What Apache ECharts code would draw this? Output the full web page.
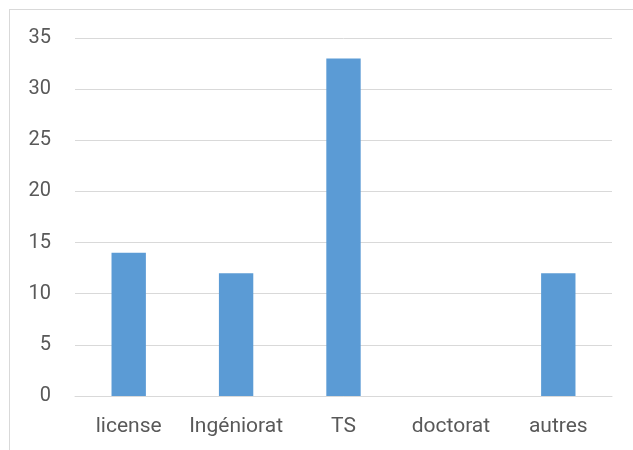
<!DOCTYPE html>
<html>
<head>
<meta charset="utf-8">
<script src="https://cdn.jsdelivr.net/npm/echarts@6/dist/echarts.min.js"></script>
<style>
  html, body { margin: 0; padding: 0; background: #fff; }
  #frame { position: absolute; left: 9px; top: 9px; width: 640px; height: 460px; border: 1px solid #d9d9d9; box-sizing: border-box; }
  #chart { position: absolute; left: 0; top: 0; width: 633px; height: 450px; }
</style>
</head>
<body>
<div id="frame"></div>
<div id="chart"></div>
<script>
const categories = ['license', 'Ingéniorat', 'TS', 'doctorat', 'autres'];
const values = [14, 12, 33, 0, 12];
const yMin = 0, yMax = 35, yStep = 5;

const textColor = '#595959';
const gridColor = '#d9d9d9';
const barColor = '#5b9bd5';
const font = 'Roboto';

const chart = echarts.init(document.getElementById('chart'), null, { renderer: 'canvas' });
chart.setOption({
  animation: false,
  grid: { left: 75, right: 21, top: 38, bottom: 54, containLabel: false },
  xAxis: {
    type: 'category',
    data: categories,
    axisLine: { show: true, lineStyle: { color: gridColor, width: 1 } },
    axisTick: { show: false },
    axisLabel: { color: textColor, fontSize: 21, fontFamily: font, margin: 20, interval: 0, hideOverlap: false }
  },
  yAxis: {
    type: 'value',
    min: yMin, max: yMax, interval: yStep,
    axisLine: { show: false },
    axisTick: { show: false },
    splitLine: { lineStyle: { color: gridColor, width: 1 } },
    axisLabel: { color: textColor, fontSize: 20, fontFamily: font, margin: 24 }
  },
  series: [{
    type: 'bar',
    data: values,
    barWidth: '32%',
    itemStyle: { color: barColor }
  }]
});
</script>
</body>
</html>
